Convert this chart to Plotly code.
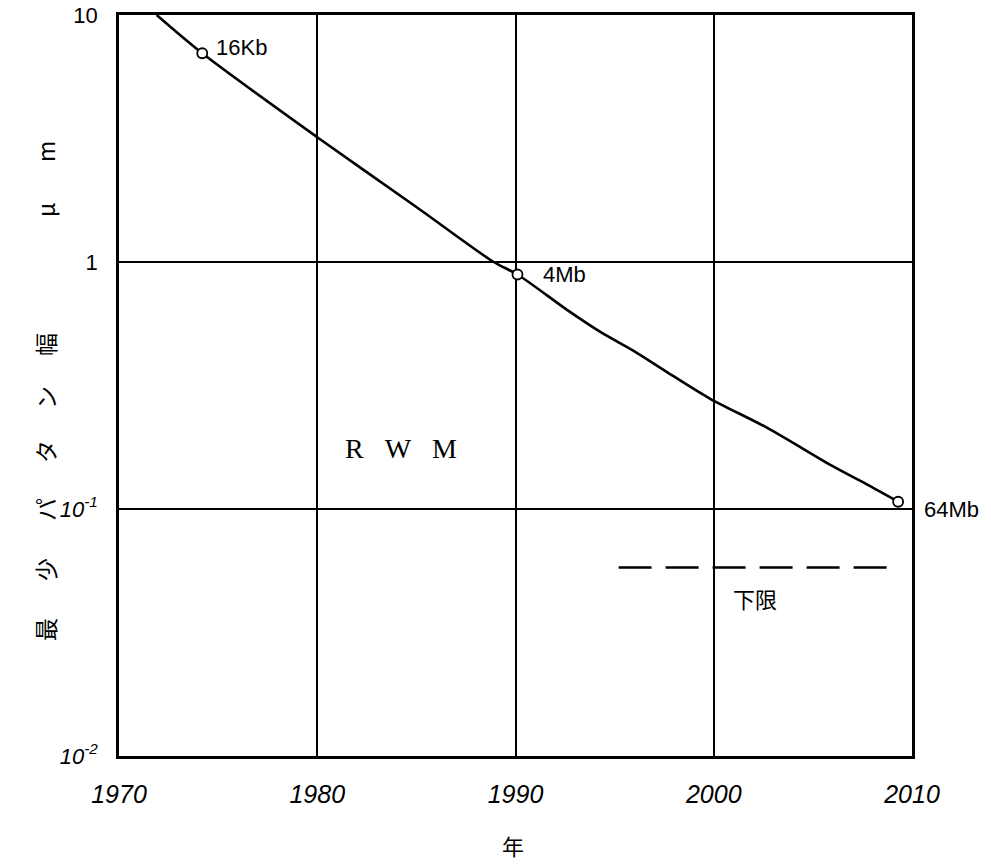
import plotly.graph_objects as go
import numpy as np

# Curve (year, minimum pattern width in um)
years = [1971.9, 1974.2, 1980.0, 1985.0, 1988.9, 1990.1, 1992.6, 1994.3, 1996.0,
         1997.6, 1999.8, 2002.7, 2006.0, 2007.7, 2009.3]
widths = [10.0, 7.0, 3.2, 1.67, 1.0, 0.89, 0.64, 0.52, 0.435,
          0.36, 0.28, 0.213, 0.149, 0.126, 0.107]

# Labelled generations
gen_years = [1974.2, 1990.1, 2009.3]
gen_widths = [7.0, 0.89, 0.107]
gen_labels = ["16Kb", "4Mb", "64Mb"]
gen_label_x = [1974.8, 1991.3, 2010.0]
gen_label_y = [7.4, 0.89, 0.1]

# Lower limit (dashed)
limit_years = [1995.2, 2009.2]
limit_value = 0.058

xtick_vals = [1970, 1980, 1990, 2000, 2010]
xtick_text = ["<i>1970</i>", "<i>1980</i>", "<i>1990</i>", "<i>2000</i>", "<i>2010</i>"]
ytick_vals = [10, 1, 0.1, 0.01]
ytick_text = ["10", "1", "<i>10<sup>-1</sup></i>", "<i>10<sup>-2</sup></i>"]

fig = go.Figure()
fig.add_trace(go.Scatter(x=years, y=widths, mode="lines",
                         line=dict(color="black", width=2.6, shape="spline", smoothing=0.8),
                         showlegend=False, hoverinfo="skip"))
fig.add_trace(go.Scatter(x=limit_years, y=[limit_value] * 2, mode="lines",
                         line=dict(color="black", width=2.5, dash="33px,14px"), showlegend=False))
fig.add_trace(go.Scatter(x=gen_years, y=gen_widths, mode="markers", cliponaxis=False,
                         marker=dict(symbol="circle", size=10, color="white",
                                     line=dict(color="black", width=1.8)), showlegend=False))

for lx, ly, t in zip(gen_label_x, gen_label_y, gen_labels):
    fig.add_annotation(x=min(lx, 2010), y=np.log10(ly), text=t, showarrow=False, xanchor="left",
                       xshift=10 if lx >= 2010 else 0,
                       font=dict(family="Liberation Sans", size=22, color="black"))

fig.add_annotation(x=1984.2, y=np.log10(0.176), text="R&nbsp;&nbsp;&nbsp;W&nbsp;&nbsp;&nbsp;M",
                   showarrow=False,
                   font=dict(family="Liberation Serif", size=28, color="black"))
fig.add_annotation(x=2002.1, y=np.log10(0.0438), text="下限", showarrow=False,
                   font=dict(family="Noto Sans CJK JP", size=22, color="black"))

# y axis title, drawn character by character (rotated)
ychars = ["最", "少", "パ", "タ", "ン", "幅", "μ", "m"]
ypix = [630, 570, 510, 452, 398, 345, 210, 152]
for ch, yp in zip(ychars, ypix):
    fig.add_annotation(xref="paper", yref="paper", x=(45 - 119) / 793, y=(756 - yp) / 741,
                       xanchor="center", yanchor="middle",
                       text=ch, showarrow=False, textangle=-90,
                       font=dict(family="Noto Sans CJK JP", size=23, color="black"))

fig.add_annotation(xref="paper", yref="paper", x=(513 - 119) / 793, y=(756 - 845) / 741,
                   xanchor="center", yanchor="middle",
                   text="年", showarrow=False,
                   font=dict(family="Noto Sans CJK JP", size=22, color="black"))

fig.update_layout(
    width=991, height=867,
    margin=dict(l=119, r=79, t=15, b=111, autoexpand=False),
    paper_bgcolor="white", plot_bgcolor="white",
    xaxis=dict(range=[1970, 2010], tickvals=xtick_vals, ticktext=xtick_text,
               showgrid=True, gridcolor="black", gridwidth=2, zeroline=False,
               showline=True, linecolor="black", linewidth=2.5, mirror=True,
               ticks="", ticklabelstandoff=14,
               tickfont=dict(family="Liberation Sans", size=25, color="black")),
    yaxis=dict(type="log", range=[-2, 1], tickvals=ytick_vals, ticktext=ytick_text,
               showgrid=True, gridcolor="black", gridwidth=2, zeroline=False,
               showline=True, linecolor="black", linewidth=2.5, mirror=True,
               ticks="", ticklabelstandoff=14,
               tickfont=dict(family="Liberation Sans", size=22, color="black")),
)

fig.write_html("out.html")
